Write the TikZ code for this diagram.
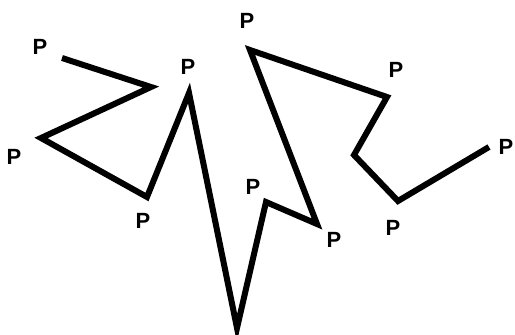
\documentclass[tikz,border=0pt]{standalone}
\usepackage{fontspec}
\setmainfont{Liberation Sans}
\begin{document}
\begin{tikzpicture}[x=1pt,y=-1pt,
  chain/.style={line width=6pt,line join=miter,miter limit=6,line cap=butt},
  plabel/.style={font=\fontsize{22}{22}\selectfont\bfseries,inner sep=0pt,anchor=center}]
\useasboundingbox (0,0) rectangle (515,335);
\clip (0,0) rectangle (515,335);
\coordinate (v1) at (62,58);
\coordinate (v2) at (151,87);
\coordinate (v3) at (41,138);
\coordinate (v4) at (147,197);
\coordinate (v5) at (189,93);
\coordinate (v6) at (237,328);
\coordinate (v7) at (266,202);
\coordinate (v8) at (317,224);
\coordinate (v9) at (250,50);
\coordinate (v10) at (387,97);
\coordinate (v11) at (354,155);
\coordinate (v12) at (398,201);
\coordinate (v13) at (489,147);
\draw[chain] (v1) -- (v2) -- (v3) -- (v4) -- (v5) -- (v6) -- (v7) -- (v8) -- (v9) -- (v10) -- (v11) -- (v12) -- (v13);
\node[plabel] (p1) at (40,47) {P};
\node[plabel] (p2) at (188,67) {P};
\node[plabel] (p3) at (247,21) {P};
\node[plabel] (p4) at (396,70) {P};
\node[plabel] (p5) at (14,157) {P};
\node[plabel] (p6) at (143,221) {P};
\node[plabel] (p7) at (253,187) {P};
\node[plabel] (p8) at (334,240) {P};
\node[plabel] (p9) at (393,228) {P};
\node[plabel] (p10) at (506,147) {P};
\end{tikzpicture}
\end{document}
